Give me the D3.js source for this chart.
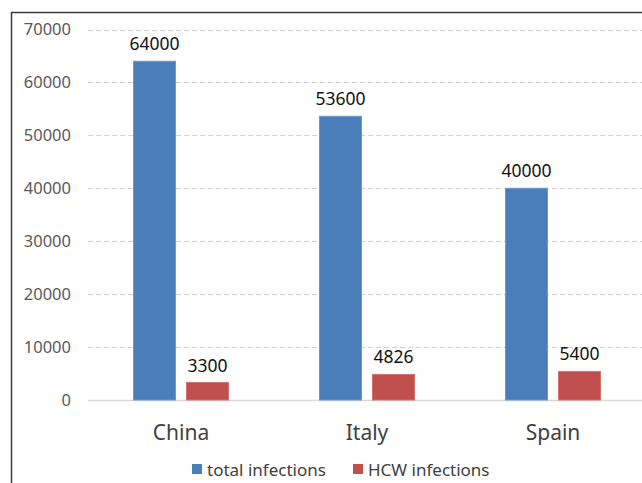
<!DOCTYPE html>
<html>
<head>
<meta charset="utf-8">
<script src="https://cdn.jsdelivr.net/npm/d3@7"></script>
<style>
  body { margin: 0; background: #fff; }
  text { font-family: "Noto Sans", sans-serif; }
</style>
</head>
<body>
<div id="chart"></div>
<script>
var countries = ["China", "Italy", "Spain"];
var seriesNames = ["total infections", "HCW infections"];
var totalInfections = [64000, 53600, 40000];
var hcwInfections = [3300, 4826, 5400];
var yTicks = [0, 10000, 20000, 30000, 40000, 50000, 60000, 70000];
var colors = ["#4a7ebb", "#c0504d"];

var svgWidth = 642;
var svgHeight = 483;

var svg = d3.select("#chart")
  .append("svg")
  .attr("width", svgWidth)
  .attr("height", svgHeight);

// frame (only left and top edges show in the picture)
svg.append("path")
  .attr("d", "M11.5,483 V12.5 H642")
  .attr("fill", "none")
  .attr("stroke", "#3a3a3a")
  .attr("stroke-width", 1.5);

var yScale = d3.scaleLinear()
  .domain([0, 70000])
  .range([400, 29.5]);

var x0 = d3.scaleBand()
  .domain(countries)
  .range([88, 646])
  .paddingInner(0.489)
  .paddingOuter(0.2445);

var x1 = d3.scaleBand()
  .domain(seriesNames)
  .range([0, x0.bandwidth()])
  .paddingInner(0.2075);

// gridlines
svg.append("g")
  .selectAll("line")
  .data(yTicks.slice(1))
  .enter()
  .append("line")
  .attr("x1", 88)
  .attr("x2", 642)
  .attr("y1", d => Math.round(yScale(d)) + 0.5)
  .attr("y2", d => Math.round(yScale(d)) + 0.5)
  .attr("stroke", "#d0d0d0")
  .attr("stroke-dasharray", "5,3");

// baseline
svg.append("line")
  .attr("x1", 88)
  .attr("x2", 642)
  .attr("y1", yScale(0) + 0.5)
  .attr("y2", yScale(0) + 0.5)
  .attr("stroke", "#d9d9d9")
  .attr("stroke-width", 1.5);

// y axis labels
var leftAxis = d3.axisLeft(yScale)
  .tickValues(yTicks)
  .tickSize(0)
  .tickPadding(0)
  .tickFormat(d3.format("d"));

var yAxis = svg.append("g")
  .attr("transform", "translate(71,0)")
  .call(leftAxis);
yAxis.select(".domain").remove();
yAxis.selectAll("text")
  .attr("fill", "#595959")
  .style("font-size", "16.5px")
  .style("font-family", "Noto Sans");

// x axis labels
var bottomAxis = d3.axisBottom(x0).tickSize(0).tickPadding(0);
var xAxis = svg.append("g")
  .attr("transform", "translate(0,425)")
  .call(bottomAxis);
xAxis.select(".domain").remove();
xAxis.selectAll("text")
  .attr("fill", "#404040")
  .style("font-size", "21px")
  .style("font-family", "Noto Sans");

var rows = countries.map(function(c, i) {
  return { country: c, values: [totalInfections[i], hcwInfections[i]] };
});

var groups = svg.selectAll(".country")
  .data(rows)
  .enter()
  .append("g")
  .attr("transform", d => `translate(${x0(d.country)},0)`);

groups.selectAll("rect")
  .data(d => d.values.map((v, j) => ({ series: seriesNames[j], value: v, idx: j })))
  .enter()
  .append("rect")
  .attr("x", d => x1(d.series))
  .attr("y", d => yScale(d.value))
  .attr("width", x1.bandwidth())
  .attr("height", d => yScale(0) - yScale(d.value))
  .attr("fill", d => colors[d.idx])
  .attr("stroke", d => d.idx === 0 ? "#6b98cf" : "#d47471")
  .attr("stroke-width", 1);

groups.selectAll(".lbl")
  .data(d => d.values.map((v, j) => ({ series: seriesNames[j], value: v })))
  .enter()
  .append("text")
  .attr("x", d => x1(d.series) + x1.bandwidth() / 2)
  .attr("y", d => yScale(d.value) - 11)
  .attr("text-anchor", "middle")
  .attr("fill", "#111")
  .style("font-size", "17.5px")
  .text(d => d.value);

// legend
var legendItems = [
  { name: seriesNames[0], color: colors[0], x: 192 },
  { name: seriesNames[1], color: colors[1], x: 353 }
];
var legend = svg.selectAll(".legend")
  .data(legendItems)
  .enter()
  .append("g")
  .attr("transform", d => `translate(${d.x},464)`);
legend.append("rect")
  .attr("width", 10)
  .attr("height", 10)
  .attr("fill", d => d.color);
legend.append("text")
  .attr("x", 15)
  .attr("y", 12)
  .attr("fill", "#404040")
  .style("font-size", "17px")
  .text(d => d.name);
</script>
</body>
</html>
